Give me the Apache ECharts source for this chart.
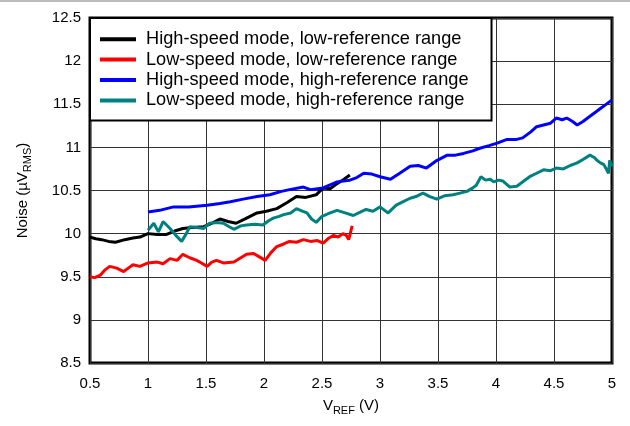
<!DOCTYPE html>
<html>
<head>
<meta charset="utf-8">
<script src="https://cdn.jsdelivr.net/npm/echarts@6/dist/echarts.min.js"></script>
<style>
html,body{margin:0;padding:0;background:#fff;}
#c{width:630px;height:426px;}
</style>
</head>
<body>
<div id="c"></div>
<script>
// Data
var seriesNames = [
  'High-speed mode, low-reference range',
  'Low-speed mode, low-reference range',
  'High-speed mode, high-reference range',
  'Low-speed mode, high-reference range'
];
var hsLowX = [0.5,0.55,0.6,0.66,0.72,0.8,0.87,0.93,1.0,1.08,1.16,1.23,1.3,1.38,1.48,1.55,1.62,1.69,1.76,1.85,1.94,2.02,2.11,2.2,2.28,2.36,2.45,2.51,2.57,2.63,2.69,2.74];
var hsLowY = [9.96,9.94,9.93,9.91,9.90,9.93,9.95,9.96,10.0,9.99,9.99,10.03,10.06,10.07,10.08,10.12,10.17,10.14,10.12,10.18,10.24,10.26,10.29,10.36,10.43,10.42,10.45,10.53,10.52,10.58,10.63,10.68];
var lsLowX = [0.5,0.54,0.59,0.63,0.67,0.73,0.79,0.83,0.87,0.93,1.0,1.08,1.13,1.19,1.25,1.3,1.36,1.42,1.46,1.51,1.55,1.59,1.65,1.74,1.8,1.85,1.91,1.96,2.01,2.06,2.11,2.17,2.22,2.28,2.34,2.4,2.46,2.51,2.56,2.6,2.64,2.68,2.71,2.73,2.76];
var lsLowY = [9.50,9.49,9.52,9.58,9.62,9.60,9.56,9.60,9.64,9.62,9.66,9.67,9.65,9.71,9.69,9.76,9.72,9.69,9.66,9.62,9.67,9.69,9.66,9.67,9.72,9.76,9.77,9.73,9.69,9.78,9.85,9.88,9.91,9.90,9.93,9.91,9.92,9.89,9.95,9.98,9.96,10.0,9.98,9.93,10.09];
var hsHighX = [1.0,1.1,1.22,1.35,1.51,1.62,1.71,1.82,1.94,2.05,2.15,2.22,2.34,2.4,2.51,2.56,2.63,2.74,2.8,2.86,2.93,3.0,3.09,3.17,3.26,3.33,3.4,3.48,3.58,3.65,3.72,3.8,3.86,3.94,4.01,4.09,4.17,4.23,4.3,4.35,4.41,4.47,4.52,4.57,4.61,4.66,4.7,4.75,4.81,4.86,4.9,4.94,4.98,5.0];
var hsHighY = [10.25,10.27,10.31,10.31,10.33,10.35,10.37,10.40,10.43,10.45,10.49,10.51,10.54,10.51,10.53,10.56,10.60,10.62,10.65,10.70,10.69,10.66,10.63,10.70,10.78,10.79,10.76,10.84,10.91,10.91,10.93,10.96,10.99,11.02,11.05,11.09,11.09,11.11,11.18,11.24,11.26,11.28,11.34,11.32,11.34,11.30,11.26,11.30,11.36,11.41,11.45,11.49,11.53,11.55];
var lsHighX = [1.0,1.05,1.09,1.13,1.19,1.24,1.29,1.33,1.36,1.42,1.48,1.53,1.6,1.65,1.7,1.74,1.8,1.85,1.92,1.99,2.04,2.08,2.13,2.17,2.23,2.28,2.33,2.37,2.41,2.45,2.5,2.57,2.63,2.7,2.77,2.83,2.88,2.94,3.0,3.07,3.14,3.2,3.26,3.31,3.37,3.43,3.49,3.56,3.63,3.69,3.75,3.8,3.83,3.87,3.91,3.95,3.98,4.02,4.06,4.12,4.18,4.24,4.29,4.35,4.41,4.47,4.52,4.58,4.64,4.7,4.75,4.81,4.85,4.87,4.9,4.93,4.97,4.98,5.0];
var lsHighY = [10.04,10.12,10.02,10.14,10.06,9.98,9.91,10.0,10.08,10.07,10.06,10.12,10.13,10.12,10.08,10.05,10.09,10.10,10.11,10.10,10.15,10.18,10.20,10.22,10.24,10.29,10.26,10.24,10.17,10.13,10.20,10.24,10.27,10.24,10.21,10.25,10.28,10.26,10.31,10.24,10.33,10.37,10.41,10.43,10.47,10.43,10.40,10.44,10.45,10.47,10.49,10.53,10.56,10.66,10.62,10.63,10.60,10.62,10.61,10.54,10.55,10.61,10.66,10.70,10.74,10.73,10.76,10.75,10.79,10.82,10.86,10.91,10.88,10.85,10.82,10.80,10.70,10.85,10.78];
var xTicks = [0.5,1,1.5,2,2.5,3,3.5,4,4.5,5];
var yTicks = [8.5,9,9.5,10,10.5,11,11.5,12,12.5];

function pairs(xs, ys){ var out=[]; for(var i=0;i<xs.length;i++) out.push([xs[i], ys[i]]); return out; }

var colors = ['#000000','#ff0000','#0000ff','#008080'];
var dataSets = [pairs(hsLowX,hsLowY), pairs(lsLowX,lsLowY), pairs(hsHighX,hsHighY), pairs(lsHighX,lsHighY)];
var font = 'Liberation Sans, Arial, sans-serif';

var chart = echarts.init(document.getElementById('c'), null, {renderer:'canvas'});
chart.setOption({
  animation: false,
  backgroundColor: '#fff',
  grid: {left: 90, right: 18, top: 18, bottom: 63, show: true, borderColor: '#000', borderWidth: 3, backgroundColor: 'transparent'},
  xAxis: {
    type: 'value', min: xTicks[0], max: xTicks[xTicks.length-1], interval: 0.5,
    axisLine: {show: false}, axisTick: {show: false},
    splitLine: {show: true, lineStyle: {color: '#333', width: 1}},
    axisLabel: {color: '#000', fontSize: 15, fontFamily: font, margin: 13, formatter: function(v){return String(v);}},
    name: '{a|V}{s|REF}{a| (V)}', nameLocation: 'middle', nameGap: 30,
    nameTextStyle: {rich: {
      a: {fontSize: 15, fontFamily: font, color: '#000', lineHeight: 20, verticalAlign: 'bottom'},
      s: {fontSize: 11, fontFamily: font, color: '#000', lineHeight: 20, verticalAlign: 'bottom', padding: [0,0,-3,0]}
    }}
  },
  yAxis: {
    type: 'value', min: yTicks[0], max: yTicks[yTicks.length-1], interval: 0.5,
    axisLine: {show: false}, axisTick: {show: false},
    splitLine: {show: true, lineStyle: {color: '#333', width: 1}},
    axisLabel: {color: '#000', fontSize: 15, fontFamily: font, margin: 9, formatter: function(v){return String(v);}},
    name: '{a|Noise (µV}{s|RMS}{a|)}', nameLocation: 'middle', nameGap: 60,
    nameTextStyle: {rich: {
      a: {fontSize: 15, fontFamily: font, color: '#000', lineHeight: 20, verticalAlign: 'bottom'},
      s: {fontSize: 11, fontFamily: font, color: '#000', lineHeight: 20, verticalAlign: 'bottom', padding: [0,0,-3,0]}
    }}
  },
  legend: {
    orient: 'vertical', left: 90, top: 18,
    padding: [11, 23, 10, 10],
    itemGap: 0, itemWidth: 36, itemHeight: 4, icon: 'rect',
    backgroundColor: '#fff', borderColor: '#000', borderWidth: 2,
    textStyle: {color: '#000', fontSize: 18.2, fontFamily: font, padding: [0,0,0,5], lineHeight: 20.4},
    data: seriesNames
  },
  graphic: [
    {type: 'line', shape: {x1: 0, y1: 1, x2: 630, y2: 1}, style: {stroke: '#777', lineWidth: 1}, silent: true}
  ],
  series: seriesNames.map(function(n, i){
    return {
      name: n, type: 'line', data: dataSets[i], showSymbol: false, symbol: 'none',
      lineStyle: {color: colors[i], width: 3}, itemStyle: {color: colors[i]},
      z: 2 + i, clip: true
    };
  })
});
</script>
</body>
</html>
